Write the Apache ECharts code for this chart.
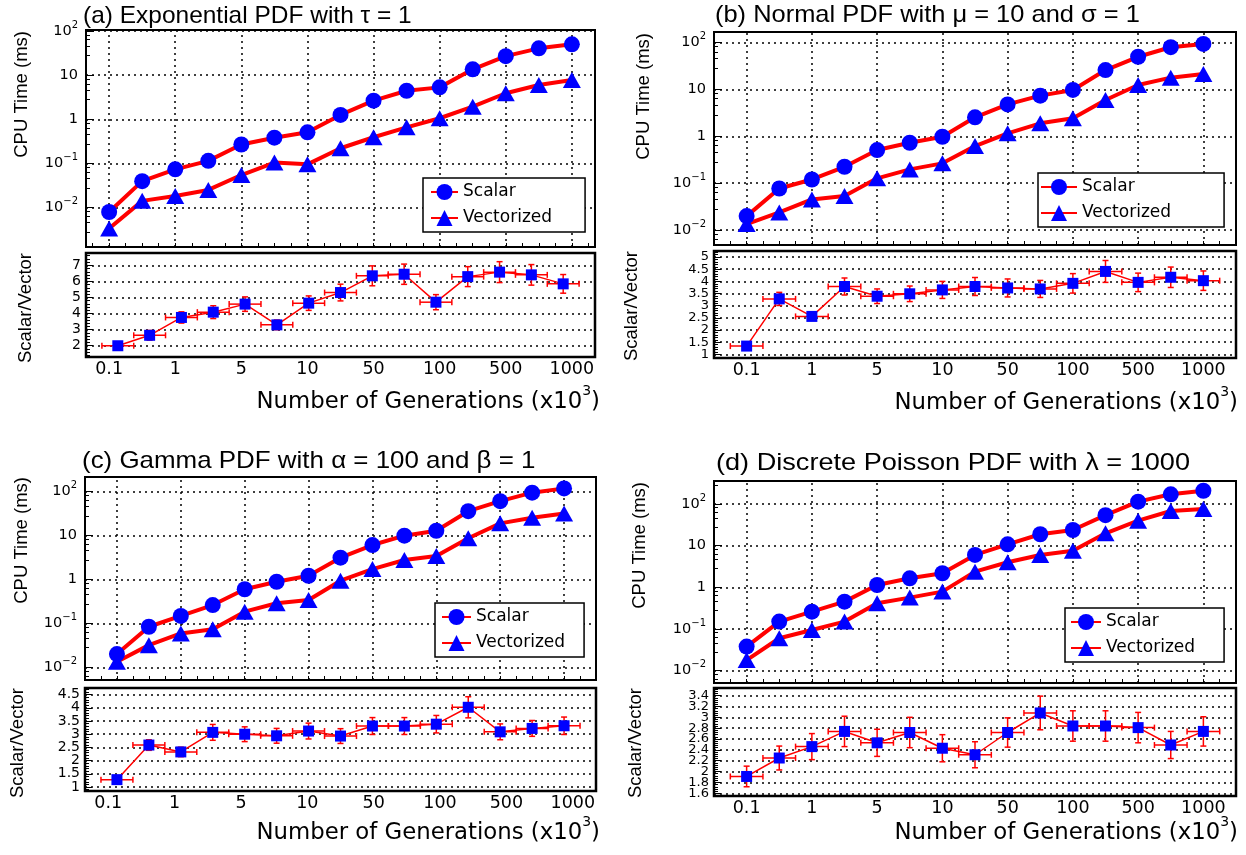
<!DOCTYPE html>
<html>
<head>
<meta charset="utf-8">
<script src="https://cdn.jsdelivr.net/npm/echarts@6/dist/echarts.min.js"></script>
<style>
  html, body { margin: 0; padding: 0; background: #fff; }
  #main { width: 1246px; height: 855px; }
</style>
</head>
<body>
<div id="main"></div>
<script>
// 15 generation sizes, plotted at index 0..14; only every other one is labelled
const tickPos = [0, 2, 4, 6, 8, 10, 12, 14];
const tickLabels = ['0.1', '1', '5', '10', '50', '100', '500', '1000'];

// (a) exponential
const expScalar = [0.008, 0.040, 0.074, 0.115, 0.27, 0.385, 0.51, 1.26, 2.65, 4.45, 5.3, 13.6, 27, 40.5, 50];
const expVector = [0.0034, 0.0143, 0.0185, 0.0253, 0.055, 0.105, 0.096, 0.222, 0.394, 0.66, 1.06, 1.94, 3.9, 6.0, 7.8];
const expRatio = [2.0, 2.65, 3.76, 4.09, 4.59, 3.3, 4.65, 5.31, 6.35, 6.45, 4.71, 6.3, 6.58, 6.41, 5.85];
const expRatioErr = [0.25, 0.3, 0.35, 0.4, 0.45, 0.3, 0.45, 0.52, 0.62, 0.63, 0.47, 0.62, 0.65, 0.64, 0.58];

// (b) normal
const normScalar = [0.0198, 0.077, 0.12, 0.224, 0.51, 0.73, 0.98, 2.55, 4.8, 7.4, 9.8, 26, 50, 80, 94];
const normVector = [0.0134, 0.0238, 0.045, 0.053, 0.127, 0.197, 0.265, 0.62, 1.16, 1.9, 2.43, 5.97, 12.5, 17.9, 21.4];
const normRatio = [1.34, 3.28, 2.56, 3.79, 3.39, 3.49, 3.65, 3.79, 3.73, 3.69, 3.92, 4.41, 3.96, 4.17, 4.03];
const normRatioErr = [0.07, 0.27, 0.15, 0.35, 0.3, 0.32, 0.35, 0.37, 0.37, 0.35, 0.4, 0.45, 0.38, 0.42, 0.4];

// (c) gamma
const gammaScalar = [0.020, 0.084, 0.148, 0.262, 0.6, 0.89, 1.22, 3.14, 6.1, 9.95, 12.9, 36, 61, 95, 119];
const gammaVector = [0.0134, 0.032, 0.059, 0.074, 0.185, 0.287, 0.34, 0.94, 1.73, 2.78, 3.43, 8.7, 19, 25.6, 32];
const gammaRatio = [1.28, 2.59, 2.33, 3.07, 3.0, 2.94, 3.12, 2.93, 3.31, 3.31, 3.38, 4.02, 3.09, 3.22, 3.32];
const gammaRatioErr = [0.05, 0.2, 0.18, 0.3, 0.28, 0.28, 0.3, 0.28, 0.32, 0.32, 0.33, 0.4, 0.3, 0.3, 0.33];

// (d) poisson
const poisScalar = [0.038, 0.151, 0.261, 0.454, 1.14, 1.65, 2.18, 6.0, 10.8, 18.8, 23.8, 54, 114, 171, 208];
const poisVector = [0.018, 0.060, 0.095, 0.151, 0.416, 0.567, 0.79, 2.38, 4.0, 6.0, 7.6, 19.8, 39.8, 68, 76];
const poisRatio = [1.91, 2.25, 2.46, 2.74, 2.53, 2.72, 2.43, 2.31, 2.72, 3.08, 2.84, 2.84, 2.81, 2.49, 2.74];
const poisRatioErr = [0.19, 0.22, 0.24, 0.28, 0.25, 0.28, 0.25, 0.24, 0.27, 0.31, 0.28, 0.28, 0.28, 0.25, 0.27];

// layout of the four panels (pixels / axis ranges)
const panels = [
  { title: '(a) Exponential PDF with τ = 1', scalar: expScalar, vector: expVector, ratio: expRatio, err: expRatioErr,
    top: [86, 30, 509, 217], bot: [86, 253, 509, 104], xTop: [-0.7, 14.7], xLab: [-0.7, 14.7],
    logY: [-2.889, 2.023], ratioY: [1.3, 7.77], ratioSplit: 6, ratioFont: 14,
    legend: { left: 423, top: 178, itemWidth: 27, pad: [4, 33, 4, 7] },
    titlePos: [83, 16], titleStretch: 1.02, cpuPos: [22, 31], svPos: [26, 253], xtPos: [600, 402] },
  { title: '(b) Normal PDF with μ = 10 and σ = 1', scalar: normScalar, vector: normVector, ratio: normRatio, err: normRatioErr,
    top: [714, 32, 522, 213], bot: [714, 251, 522, 107], xTop: [-1, 15], xLab: [-1, 15],
    logY: [-2.32, 2.228], ratioY: [0.85, 5.25], ratioSplit: 9, ratioFont: 13,
    legend: { left: 1038, top: 173, itemWidth: 36, pad: [4, 53, 4, 2] },
    titlePos: [715, 15], titleStretch: 1.06, cpuPos: [644, 33], svPos: [632, 251], xtPos: [1238, 403] },
  { title: '(c) Gamma PDF with α = 100 and β = 1', scalar: gammaScalar, vector: gammaVector, ratio: gammaRatio, err: gammaRatioErr,
    top: [85, 477, 511, 203], bot: [85, 688, 511, 103], xTop: [-1, 15], xLab: [-0.7, 14.7],
    logY: [-2.289, 2.335], ratioY: [0.85, 4.75], ratioSplit: 8, ratioFont: 14,
    legend: { left: 435, top: 603, itemWidth: 29, pad: [4, 19, 4, 6] },
    titlePos: [82, 461], titleStretch: 1.08, cpuPos: [22, 477], svPos: [18, 688], xtPos: [600, 833] },
  { title: '(d) Discrete Poisson PDF with λ = 1000', scalar: poisScalar, vector: poisVector, ratio: poisRatio, err: poisRatioErr,
    top: [714, 481, 522, 202], bot: [714, 688, 522, 108], xTop: [-1, 15], xLab: [-1, 15],
    logY: [-2.295, 2.552], ratioY: [1.55, 3.54], ratioSplit: 10, ratioFont: 13,
    legend: { left: 1065, top: 608, itemWidth: 30, pad: [4, 29, 4, 5] },
    titlePos: [716, 463], titleStretch: 1.13, cpuPos: [640, 482], svPos: [636, 688], xtPos: [1238, 833] }
];

const BLUE = '#0000ff';
const RED = '#ff0000';
const dotted = { color: '#000', type: [2, 4], width: 1.5 };
const noLine = { show: false, onZero: false };
const halfSteps = [];
for (let t = -0.5; t <= 14.5; t += 0.5) halfSteps.push(t);

function logLabel(v) {
  const e = Math.log10(v);
  const r = Math.round(e);
  if (Math.abs(e - r) > 1e-3) return '';
  if (r === 0) return '{b|1}';
  if (r === 1) return '{b|10}';
  return '{b|10}{s|' + (r < 0 ? '−' + (-r) : r) + '}';
}

function errorBars(params, api) {
  const x = api.value(0), y = api.value(1), e = api.value(2);
  const c = api.coord([x, y]);
  const l = api.coord([x - 0.5, y]);
  const r = api.coord([x + 0.5, y]);
  const t = api.coord([x, y + e]);
  const b = api.coord([x, y - e]);
  const st = { stroke: RED, lineWidth: 1.5 };
  const seg = (x1, y1, x2, y2) => ({ type: 'line', shape: { x1, y1, x2, y2 }, style: st });
  return {
    type: 'group',
    children: [
      seg(l[0], c[1], r[0], c[1]),
      seg(c[0], t[1], c[0], b[1]),
      seg(l[0], c[1] - 3, l[0], c[1] + 3),
      seg(r[0], c[1] - 3, r[0], c[1] + 3),
      seg(c[0] - 3, t[1], c[0] + 3, t[1]),
      seg(c[0] - 3, b[1], c[0] + 3, b[1])
    ]
  };
}

const grids = [], xAxes = [], yAxes = [], series = [], legends = [], texts = [];

panels.forEach((p, k) => {
  const gTop = grids.length;
  grids.push({ left: p.top[0], top: p.top[1], width: p.top[2], height: p.top[3],
    show: true, borderColor: '#000', borderWidth: 2, backgroundColor: '#fff' });
  const gBot = grids.length;
  grids.push({ left: p.bot[0], top: p.bot[1], width: p.bot[2], height: p.bot[3],
    show: true, borderColor: '#000', borderWidth: 2.5, backgroundColor: '#fff' });

  const xTop = xAxes.length;
  xAxes.push({ type: 'value', gridIndex: gTop, position: 'bottom', min: p.xTop[0], max: p.xTop[1],
    axisLine: noLine, axisLabel: { show: false }, splitLine: { show: false },
    axisTick: { show: true, inside: true, length: 4, customValues: halfSteps, lineStyle: { color: '#000', width: 1 } } });
  const xBot = xAxes.length;
  xAxes.push({ type: 'value', gridIndex: gBot, position: 'bottom', min: -1, max: 15, show: false, axisLine: noLine });
  xAxes.push({ type: 'value', gridIndex: gBot, position: 'bottom', min: p.xLab[0], max: p.xLab[1],
    axisLine: noLine, axisTick: { show: false }, splitLine: { show: false },
    axisLabel: { customValues: tickPos, margin: 3, color: '#000', fontFamily: 'DejaVu Sans', fontSize: 17.5,
      formatter: v => { const i = tickPos.indexOf(Math.round(v)); return i >= 0 ? tickLabels[i] : ''; } } });

  const yTop = yAxes.length;
  yAxes.push({ type: 'log', logBase: 10, gridIndex: gTop, position: 'left',
    min: Math.pow(10, p.logY[0]), max: Math.pow(10, p.logY[1]),
    axisLine: noLine,
    axisTick: { inside: true, length: 8, lineStyle: { color: '#000', width: 1 } },
    minorTick: { show: true, splitNumber: 5, length: 4, lineStyle: { color: '#000', width: 1 } },
    splitLine: { show: true, lineStyle: dotted },
    axisLabel: { formatter: logLabel, margin: 8, color: '#000',
      rich: { b: { fontFamily: 'DejaVu Sans', fontSize: 14.5, lineHeight: 22, color: '#000' },
              s: { fontFamily: 'DejaVu Sans', fontSize: 10, verticalAlign: 'top', color: '#000' } } } });
  const yBot = yAxes.length;
  yAxes.push({ type: 'value', gridIndex: gBot, position: 'left',
    min: p.ratioY[0], max: p.ratioY[1], splitNumber: p.ratioSplit,
    axisLine: noLine,
    axisTick: { inside: true, length: 7, lineStyle: { color: '#000', width: 1 } },
    minorTick: { show: true, splitNumber: 5, length: 4, lineStyle: { color: '#000', width: 1 } },
    splitLine: { show: true, lineStyle: dotted },
    axisLabel: { showMinLabel: false, showMaxLabel: false, margin: 5, color: '#000',
      fontFamily: 'DejaVu Sans', fontSize: p.ratioFont } });

  series.push({ name: 'Scalar', type: 'line', xAxisIndex: xTop, yAxisIndex: yTop,
    data: p.scalar.map((v, i) => [i, v]), symbol: 'circle', symbolSize: 16,
    itemStyle: { color: BLUE }, lineStyle: { color: RED, width: 4 }, z: 4, emphasis: { disabled: true },
    markLine: { silent: true, symbol: 'none', z: 1, animation: false, label: { show: false },
      lineStyle: dotted, emphasis: { disabled: true }, data: tickPos.map(t => ({ xAxis: t })) } });
  series.push({ name: 'Vectorized', type: 'line', xAxisIndex: xTop, yAxisIndex: yTop,
    data: p.vector.map((v, i) => [i, v]), symbol: 'triangle', symbolSize: [18, 16],
    itemStyle: { color: BLUE }, lineStyle: { color: RED, width: 4 }, z: 3, emphasis: { disabled: true } });
  series.push({ type: 'custom', xAxisIndex: xBot, yAxisIndex: yBot, silent: true, z: 2,
    data: p.ratio.map((v, i) => [i, v, p.err[i]]), renderItem: errorBars });
  series.push({ name: 'Scalar/Vector', type: 'line', xAxisIndex: xBot, yAxisIndex: yBot,
    data: p.ratio.map((v, i) => [i, v]), symbol: 'rect', symbolSize: 11,
    itemStyle: { color: BLUE }, lineStyle: { color: RED, width: 1.5 }, z: 3, emphasis: { disabled: true } });

  legends.push({ orient: 'vertical', left: p.legend.left, top: p.legend.top, data: ['Scalar', 'Vectorized'],
    itemWidth: p.legend.itemWidth, itemHeight: 20, itemGap: 6, padding: p.legend.pad,
    borderColor: '#000', borderWidth: 1.5, backgroundColor: '#fff', selectedMode: false, z: 10,
    textStyle: { fontFamily: 'DejaVu Sans', fontSize: 17, color: '#000', lineHeight: 20 } });

  texts.push({ type: 'text', x: p.titlePos[0], y: p.titlePos[1], scaleX: p.titleStretch,
    style: { text: p.title, fill: '#000', font: '24px "Liberation Sans"', align: 'left', verticalAlign: 'middle' } });
  texts.push({ type: 'text', x: p.cpuPos[0], y: p.cpuPos[1], rotation: Math.PI / 2,
    style: { text: 'CPU Time (ms)', fill: '#000', font: '18.5px "Liberation Sans"', align: 'right', verticalAlign: 'middle' } });
  texts.push({ type: 'text', x: p.svPos[0], y: p.svPos[1], rotation: Math.PI / 2,
    style: { text: 'Scalar/Vector', fill: '#000', font: '18.5px "Liberation Sans"', align: 'right', verticalAlign: 'middle' } });
  texts.push({ type: 'text', x: p.xtPos[0], y: p.xtPos[1],
    style: { text: '{n|Number of Generations (x10}{s|3}{n|)}', fill: '#000', align: 'right', verticalAlign: 'middle',
      rich: { n: { fontFamily: 'DejaVu Sans', fontSize: 22.8, lineHeight: 36, color: '#000' },
              s: { fontFamily: 'DejaVu Sans', fontSize: 14, verticalAlign: 'top', color: '#000' } } } });
});

const chart = echarts.init(document.getElementById('main'));
chart.setOption({
  animation: false,
  backgroundColor: '#fff',
  grid: grids,
  xAxis: xAxes,
  yAxis: yAxes,
  legend: legends,
  series: series,
  graphic: { elements: texts }
});
</script>
</body>
</html>
